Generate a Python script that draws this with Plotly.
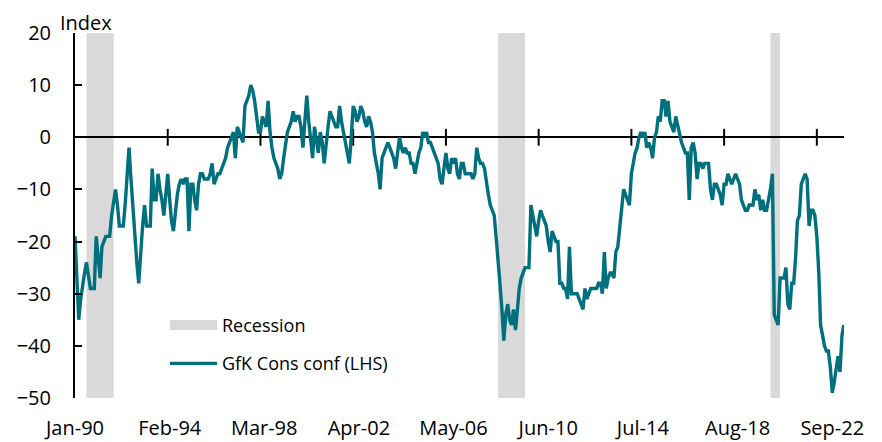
import pandas as pd
import plotly.graph_objects as go

# ---------------- data ----------------
series_start = "1990-01-01"

gfk_1990s = [
    -19, -27, -35, -31, -28, -26, -24, -27, -29, -29, -29, -19,   # 1990
    -24, -27, -21, -20, -19, -19, -19, -15, -12, -10, -13, -17,   # 1991
    -17, -17, -13, -6, -2, -8, -14, -19, -24, -28, -22, -17,      # 1992
    -13, -17, -17, -17, -6, -12, -12, -7, -10, -12, -15, -11,     # 1993
    -7, -12, -16, -18, -14, -11, -9, -8, -9, -8, -8, -18,         # 1994
    -9, -9, -12, -14, -9, -7, -7, -8, -8, -8, -7, -5,             # 1995
    -9, -8, -7, -7, -6, -5, -4, -2, -1, 0, 1, -4,                 # 1996
    2, 1, 0, -1, 6, 7, 8, 10, 9, 7, 4, 1,                         # 1997
    1, 4, 3, 2, 7, 1, -2, -4, -5, -6, -8, -7,                     # 1998
    -4, -1, 1, 2, 3, 5, 3, 4, 4, 2, -2, 3,                        # 1999
]
gfk_2000s = [
    8, 3, 0, -4, 2, -1, -3, 1, -1, -5, -1, 2,                     # 2000
    5, 4, 3, 2, 2, 6, 3, 1, -1, -3, -5, 0,                        # 2001
    6, 5, 3, 4, 6, 5, 3, 2, 4, 3, 1, -3,                          # 2002
    -5, -7, -10, -4, -3, -2, -1, -2, -3, -4, -6, -3,              # 2003
    0, -2, -3, -2, -3, -3, -5, -5, -7, -5, -3, -2,                # 2004
    1, 0, 1, -1, -1, -2, -3, -4, -5, -8, -9, -6,                  # 2005
    -3, -6, -7, -4, -5, -4, -7, -8, -5, -5, -7, -7,               # 2006
    -7, -7, -8, -7, -2, -4, -5, -5, -6, -9, -11, -13,             # 2007
    -14, -15, -19, -23, -28, -33, -39, -34, -32, -35, -36, -33,   # 2008
    -37, -33, -29, -27, -26, -25, -25, -25, -13, -15, -17, -19,   # 2009
]
gfk_2010s = [
    -16, -14, -15, -16, -17, -20, -22, -18, -19, -20, -20, -28,   # 2010
    -28, -29, -29, -31, -21, -30, -30, -30, -30, -31, -32, -33,   # 2011
    -29, -31, -30, -29, -29, -29, -29, -28, -28, -30, -22, -29,   # 2012
    -27, -26, -26, -27, -22, -21, -17, -13, -10, -11, -12, -13,   # 2013
    -7, -5, -3, -2, 0, 1, 0, 1, -2, -1, -2, -4,                   # 2014
    0, 1, 4, 3, 7, 7, 4, 7, 3, 2, 1, 4,                           # 2015
    2, 0, -1, -2, -3, -3, -12, -2, -1, -3, -8, -5,                # 2016
    -5, -6, -5, -5, -5, -10, -12, -9, -9, -10, -11, -13,          # 2017
    -9, -9, -7, -8, -9, -8, -7, -8, -9, -12, -13, -14,            # 2018
    -14, -13, -13, -13, -10, -12, -11, -14, -12, -14, -14, -12,   # 2019
]
gfk_2020s = [
    -10, -7, -34, -35, -36, -27, -27, -27, -25, -32, -33, -28,    # 2020
    -28, -23, -16, -15, -9, -8, -7, -8, -17, -14, -14, -15,       # 2021
    -19, -26, -36, -38, -40, -41, -41, -44, -49, -47, -44, -42,   # 2022
    -45, -38, -36,                                                # 2023
]

recession_starts = ["1990-07-01", "2008-04-01", "2020-01-01"]
recession_ends = ["1991-09-01", "2009-06-01", "2020-06-01"]

x_tick_labels = ["Jan-90", "Feb-94", "Mar-98", "Apr-02", "May-06",
                 "Jun-10", "Jul-14", "Aug-18", "Sep-22"]
y_ticks = [-50, -40, -30, -20, -10, 0, 10, 20]

# ---------------- build ----------------
values = gfk_1990s + gfk_2000s + gfk_2010s + gfk_2020s
dates = pd.date_range(series_start, periods=len(values), freq="MS")
label_dates = [pd.Timestamp(series_start) + pd.DateOffset(months=49 * i)
               for i in range(len(x_tick_labels))]
mark_dates = pd.date_range("1994-01-01", "2022-01-01", freq="48MS")

x_end = dates[-1] + pd.Timedelta(days=4)

teal = "#00707E"
grey = "#D9D9D9"
font_family = "Open Sans, Arial, sans-serif"

fig = go.Figure()

# legend entry for the recession shading (shading itself drawn as shapes)
fig.add_trace(go.Scatter(
    x=[None], y=[None], mode="lines", name="Recession",
    line=dict(color=grey, width=13), legendgroup="g1", hoverinfo="skip",
))

# tick marks crossing the zero axis
fig.add_trace(go.Scatter(
    x=mark_dates, y=[0] * len(mark_dates), mode="markers",
    marker=dict(symbol="line-ns", size=12, line=dict(width=2, color="black")),
    showlegend=False, hoverinfo="skip",
))

fig.add_trace(go.Scatter(
    x=dates, y=values, mode="lines", name="GfK Cons conf (LHS)",
    line=dict(color=teal, width=3.4), legendgroup="g2",
))

for s, e in zip(recession_starts, recession_ends):
    fig.add_shape(
        type="rect", xref="x", yref="y",
        x0=s, x1=e, y0=min(y_ticks), y1=max(y_ticks),
        fillcolor=grey, line=dict(width=0), layer="below",
    )

fig.add_annotation(
    text="Index", xref="paper", yref="paper", x=0, y=1,
    xanchor="center", yanchor="bottom", xshift=11, yshift=-5,
    showarrow=False, font=dict(size=20, family=font_family, color="black"),
)

# the page body has an 8px margin, so the figure is sized to fit the window
fig.update_layout(
    width=874, height=434,
    margin=dict(l=67, r=38, t=25, b=44, autoexpand=False),
    plot_bgcolor="white", paper_bgcolor="white",
    font=dict(family=font_family, size=20, color="black"),
    showlegend=True,
    legend=dict(
        x=0.117, y=0.25, xanchor="left", yanchor="top",
        bgcolor="rgba(0,0,0,0)", font=dict(size=18),
        itemwidth=47, traceorder="grouped", tracegroupgap=12,
    ),
    xaxis=dict(
        type="date", range=[dates[0], x_end], automargin=False,
        tickvals=label_dates, ticktext=x_tick_labels,
        showgrid=False, zeroline=False, showline=False, ticks="",
        ticklabelstandoff=16,
    ),
    yaxis=dict(
        range=[min(y_ticks), max(y_ticks)], tickvals=y_ticks, automargin=False,
        showgrid=False, showline=True, linecolor="black", linewidth=2,
        ticks="inside", ticklen=7, tickwidth=2, tickcolor="black",
        zeroline=True, zerolinecolor="black", zerolinewidth=2,
        ticklabelstandoff=18,
    ),
)

fig.write_html("out.html")
